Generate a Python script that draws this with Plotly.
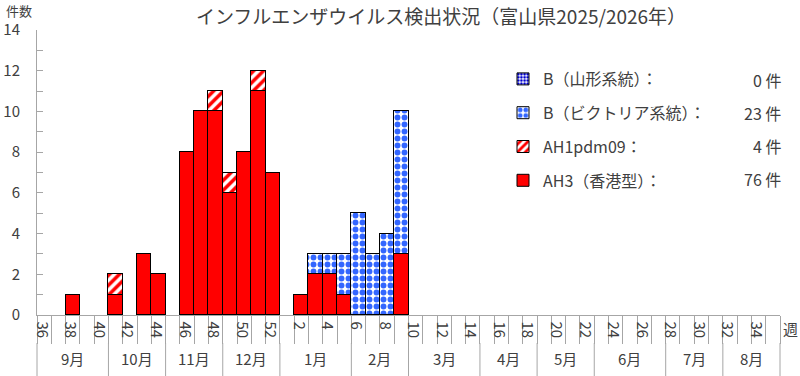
import plotly.graph_objects as go

# ---- data ----
weeks = [str(w) for w in list(range(36, 53)) + list(range(1, 36))]
week_labels = [w if int(w) % 2 == 0 else "" for w in weeks]

ah3 = [0, 0, 1, 0, 0, 1, 0, 3, 2, 0, 8, 10, 10, 6, 8, 11, 7,
       0, 1, 2, 2, 1, 0, 0, 0, 3] + [0] * 26
ah1pdm = [0, 0, 0, 0, 0, 1, 0, 0, 0, 0, 0, 0, 1, 1, 0, 1, 0,
          0, 0, 0, 0, 0, 0, 0, 0, 0] + [0] * 26
b_vic = [0, 0, 0, 0, 0, 0, 0, 0, 0, 0, 0, 0, 0, 0, 0, 0, 0,
         0, 0, 1, 1, 2, 5, 3, 4, 7] + [0] * 26
b_yam = [0] * 52

months = ["9月", "10月", "11月", "12月", "1月", "2月", "3月", "4月", "5月", "6月", "7月", "8月"]
month_weeks = [5, 4, 4, 4, 5, 4, 5, 4, 4, 5, 4, 4]

y_ticks = list(range(0, 15))
y_labels = [str(v) if v % 2 == 0 else "" for v in y_ticks]

title = "インフルエンザウイルス検出状況（富山県2025/2026年）"
names = ["AH3（香港型）：", "AH1pdm09：", "B（ビクトリア系統）：", "B（山形系統）："]

FONT = "Noto Sans CJK JP"
TXT = "#404040"
GRAY = "#A6A6A6"

def nz(a):
    return [v if v else None for v in a]

fig = go.Figure()
series = [
    (ah3, dict(color="#FF0000")),
    (ah1pdm, dict(color="white", pattern=dict(shape="/", fgcolor="#FF0000", bgcolor="white",
                                              fgopacity=1, size=7, solidity=0.5))),
    (b_vic, dict(color="white", pattern=dict(shape=".", fgcolor="#3366FF", bgcolor="white",
                                             fgopacity=1, size=7, solidity=0.55))),
    (b_yam, dict(color="white", pattern=dict(shape=".", fgcolor="#0000CC", bgcolor="white",
                                             fgopacity=1, size=4, solidity=0.6))),
]
ranks = [4, 3, 2, 1]
for i, (vals, mk) in enumerate(series):
    mk = dict(mk)
    mk["line"] = dict(color="black", width=1)
    fig.add_trace(go.Bar(x=weeks, y=nz(vals), name=names[i], marker=mk,
                         legendgroup=str(i), legendrank=ranks[i], showlegend=True))

n = len(weeks)
def xp(idx):  # category index -> paper fraction
    return (idx + 0.5) / n

shapes = []
annotations = []
start = 0
bounds = [0]
for m, k in zip(months, month_weeks):
    end = start + k
    annotations.append(dict(x=xp((start + end) / 2 - 0.5), y=(315 - 358) / 285, xref="paper", yref="paper",
                            xanchor="center", yanchor="middle",
                            text=m, showarrow=False, font=dict(size=15, color=TXT, family=FONT)))
    bounds.append(end)
    start = end
for b in bounds:
    shapes.append(dict(type="line", xref="paper", yref="paper", x0=xp(b - 0.5), x1=xp(b - 0.5),
                       y0=(315 - 343) / 285, y1=(315 - 376) / 285, line=dict(color=GRAY, width=1)))

totals = [sum(b_yam), sum(b_vic), sum(ah1pdm), sum(ah3)]
row_y = [80, 113, 146, 179]
for t, yy in zip(totals, row_y):
    annotations.append(dict(x=(783 - 37) / 743, y=(315 - yy) / 285, xref="paper", yref="paper",
                            xanchor="right", yanchor="middle", text=f"{t} 件", showarrow=False,
                            font=dict(size=16, color=TXT, family=FONT)))

annotations.append(dict(x=(19 - 37) / 743, y=(315 - 10) / 285, xref="paper", yref="paper",
                        xanchor="center", yanchor="middle",
                        text="件数", showarrow=False, font=dict(size=13, color=TXT, family=FONT)))
annotations.append(dict(x=(790 - 37) / 743, y=(315 - 328) / 285, xref="paper", yref="paper",
                        xanchor="center", yanchor="middle",
                        text="週", showarrow=False, font=dict(size=15, color=TXT, family=FONT)))

fig.update_layout(
    width=800, height=376,
    margin=dict(l=37, r=20, t=30, b=61, autoexpand=False),
    barmode="stack", bargap=0,
    plot_bgcolor="white", paper_bgcolor="white",
    font=dict(family=FONT, color=TXT),
    title=dict(text=title, x=441 / 800, xref="container", xanchor="center",
               y=1 - 17 / 376, yref="container", yanchor="middle",
               font=dict(size=19, color=TXT, family=FONT)),
    legend=dict(x=(503 - 37) / 743, y=(315 - 62) / 285, xanchor="left", yanchor="top",
                traceorder="grouped", tracegroupgap=10,
                font=dict(size=16, color=TXT, family=FONT), bgcolor="rgba(0,0,0,0)"),
    shapes=shapes, annotations=annotations,
)
fig.update_xaxes(type="category", categoryorder="array", categoryarray=weeks,
                 tickmode="array", tickvals=weeks, ticktext=week_labels,
                 tickson="boundaries", ticks="outside", ticklen=28, tickcolor=GRAY,
                 ticklabelstandoff=-5, automargin=False,
                 showline=True, linecolor=GRAY, showgrid=False,
                 tickfont=dict(size=15, color=TXT, family=FONT))
fig.update_yaxes(range=[0, 14], tickmode="array", tickvals=y_ticks, ticktext=y_labels,
                 ticks="inside", ticklen=6, tickcolor=GRAY, ticklabelstandoff=13, automargin=False,
                 showline=True, linecolor=GRAY, showgrid=False, zeroline=False,
                 tickfont=dict(size=15, color=TXT, family=FONT))

fig.write_html("out.html", config={"displayModeBar": False},
               post_script="document.body.style.margin='0';")
